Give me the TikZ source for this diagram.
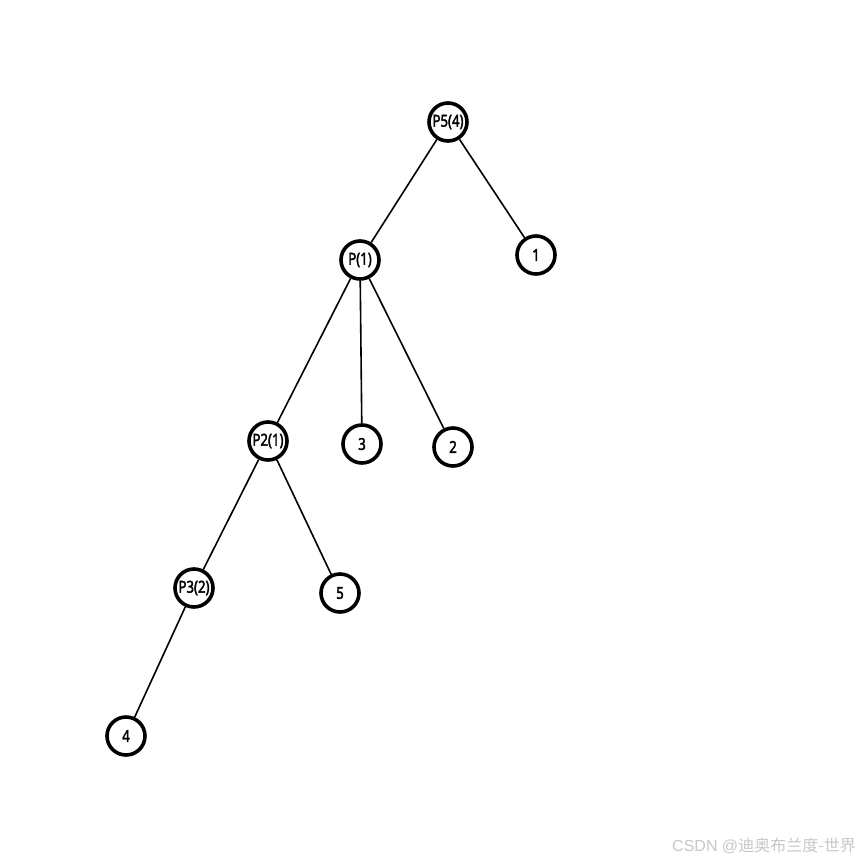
\documentclass[tikz,border=0pt]{standalone}
\usepackage{fontspec}
\newfontfamily\nodefont[FakeStretch=0.8,FakeBold=2.2]{Noto Sans}
\newfontfamily\cjkfont{Noto Sans CJK SC}
\begin{document}
\begin{tikzpicture}[x=1pt,y=-1pt,%
% common options for the circles:
ball/.style = {circle, draw, line width=3.6pt, minimum size=38pt, inner sep=0,
            font=\nodefont\fontsize{16.5}{16.5}\selectfont},
% common options for the edges:
edge/.style = {line width=1.6pt}]
\useasboundingbox (0,0) rectangle (860,860);
\node[ball] (P5) at (448,122) {P5(4)};
\node[ball] (P) at (360,260) {P(1)};
\node[ball] (N1) at (536,255) {1};
\node[ball] (P2) at (268,441) {P2(1)};
\node[ball] (N3) at (362,444) {3};
\node[ball] (N2) at (453,447) {2};
\node[ball] (P3) at (194,588) {P3(2)};
\node[ball] (N5) at (340,593) {5};
\node[ball] (N4) at (126,736) {4};
\draw[edge] (P5) to (P);
\draw[edge] (P5) to (N1);
\draw[edge] (P) to (P2);
\draw[edge] (P) to (N3);
\draw[edge] (P) to (N2);
\draw[edge] (P2) to (P3);
\draw[edge] (P2) to (N5);
\draw[edge] (P3) to (N4);
\node[anchor=base east, text=black!22, inner sep=0,
      font=\fontsize{16}{16}\selectfont] (mark) at (856,851)
      {\fontspec{Liberation Sans}CSDN @\cjkfont 迪奥布兰度-世界};
\end{tikzpicture}
\end{document}
